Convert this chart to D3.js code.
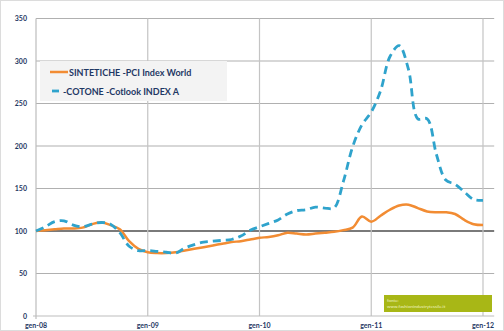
<!DOCTYPE html>
<html>
<head>
<meta charset="utf-8">
<script src="https://cdn.jsdelivr.net/npm/d3@7/dist/d3.min.js"></script>
<style>
  html, body { margin: 0; padding: 0; background: #ffffff; }
  svg { display: block; }
  text { font-family: Lato, "Open Sans", sans-serif; }
</style>
</head>
<body>
<svg id="chart" width="504" height="331"></svg>
<script>
// Monthly index values, gen-08 = 100
const months = d3.range(0, 49);
const sintetiche = [100, 101, 102, 103, 103, 104, 108, 110, 107, 102, 88, 79,
                    75, 74, 74, 75, 77, 79, 81, 83, 85, 87, 88, 90,
                    92, 93, 95, 98, 97, 96, 97, 98, 99, 101, 104, 117,
                    111, 118, 125, 130, 131, 127, 123, 122, 122, 120, 113, 108,
                    107];
const cotone = [100, 105, 111, 112, 107, 105, 108, 110, 108, 98, 82, 77,
                77, 76, 75, 74, 80, 84, 87, 88, 89, 90, 94, 101,
                105, 109, 113, 120, 124, 125, 128, 127, 127, 158, 199, 225,
                240, 265, 305, 318, 290, 232, 232, 190, 160, 155, 146, 137,
                136];
const yTicks = [0, 50, 100, 150, 200, 250, 300, 350];
const xTickMonths = [0, 12, 24, 36, 48];
const xTickLabels = ["gen-08", "gen-09", "gen-10", "gen-11", "gen-12"];
const seriesNames = ["SINTETICHE -PCI Index World", "-COTONE -Cotlook INDEX A"];

const svg = d3.select("#chart");
const W = 504, H = 331;
const mLeft = 36, mTop = 18.5, mBottom = 316;

const x = d3.scaleLinear().domain([0, 48]).range([mLeft, 483]);
const y = d3.scaleLinear().domain([0, 350]).range([mBottom, mTop]);
const plotRight = x(49.2);

// frame
svg.append("rect").attr("x", 0.5).attr("y", 0.5).attr("width", W - 1).attr("height", H - 1)
  .attr("fill", "#ffffff").attr("stroke", "#dcdcdc");

// horizontal grid
svg.append("g").selectAll("line").data(yTicks.filter(d => d > 0)).join("line")
  .attr("x1", mLeft).attr("x2", plotRight)
  .attr("y1", d => y(d)).attr("y2", d => y(d))
  .attr("stroke", d => d === 100 ? "#7a7a7a" : "#b0b0b0")
  .attr("stroke-width", d => d === 100 ? 2 : 1.2);

// vertical grid
svg.append("g").selectAll("line").data(xTickMonths.slice(1)).join("line")
  .attr("x1", d => x(d)).attr("x2", d => x(d))
  .attr("y1", mTop).attr("y2", mBottom)
  .attr("stroke", "#c4c4c4").attr("stroke-width", 1.2);

// axis lines
svg.append("line").attr("x1", mLeft).attr("x2", mLeft).attr("y1", mTop).attr("y2", mBottom + 3)
  .attr("stroke", "#bdbdbd").attr("stroke-width", 1.2);
svg.append("line").attr("x1", mLeft - 3).attr("x2", plotRight).attr("y1", mBottom).attr("y2", mBottom)
  .attr("stroke", "#bdbdbd").attr("stroke-width", 1.2);

// y tick labels
svg.append("g").selectAll("text").data(yTicks).join("text")
  .attr("x", 27).attr("y", d => y(d) + 2.5)
  .attr("text-anchor", "end")
  .attr("font-size", 7).attr("font-weight", 700).attr("fill", "#1f3864")
  .text(d => d);

// x tick labels
svg.append("g").selectAll("text").data(xTickMonths).join("text")
  .attr("x", d => x(d)).attr("y", 328)
  .attr("text-anchor", "middle")
  .attr("font-size", 7).attr("font-weight", 700).attr("fill", "#1f3864")
  .text((d, i) => xTickLabels[i]);

const line = d3.line()
  .x((d, i) => x(months[i]))
  .y(d => y(d))
  .curve(d3.curveCatmullRom.alpha(0.5));

svg.append("path").datum(sintetiche)
  .attr("d", line).attr("fill", "none")
  .attr("stroke", "#f28c33").attr("stroke-width", 2.5).attr("stroke-linejoin", "round");

svg.append("path").datum(cotone)
  .attr("d", line).attr("fill", "none")
  .attr("stroke", "#2fa3cc").attr("stroke-width", 2.8)
  .attr("stroke-dasharray", "8,5");

// legend
const lg = svg.append("g");
lg.append("rect").attr("x", 40).attr("y", 61).attr("width", 187).attr("height", 40)
  .attr("fill", "#f3f3f3");
lg.append("line").attr("x1", 50).attr("x2", 68).attr("y1", 72).attr("y2", 72)
  .attr("stroke", "#f28c33").attr("stroke-width", 2.5);
lg.append("text").attr("x", 69).attr("y", 75.5)
  .attr("font-size", 9).attr("font-weight", 700).attr("fill", "#1f3864")
  .text(seriesNames[0]);
lg.append("line").attr("x1", 52).attr("x2", 59).attr("y1", 91).attr("y2", 91)
  .attr("stroke", "#2fa3cc").attr("stroke-width", 2.8);
lg.append("text").attr("x", 63).attr("y", 94.5)
  .attr("font-size", 9).attr("font-weight", 700).attr("fill", "#1f3864")
  .text(seriesNames[1]);

// source box
const src = svg.append("g");
src.append("rect").attr("x", 384).attr("y", 295).attr("width", 108).attr("height", 17)
  .attr("fill", "#a8b716");
src.append("text").attr("x", 387).attr("y", 301.5)
  .attr("font-size", 4.5).attr("fill", "#eef3c0").text("fonte:");
src.append("text").attr("x", 387).attr("y", 308)
  .attr("font-size", 4.5).attr("fill", "#eef3c0").text("www.fashionindustrytessile.it");
</script>
</body>
</html>
